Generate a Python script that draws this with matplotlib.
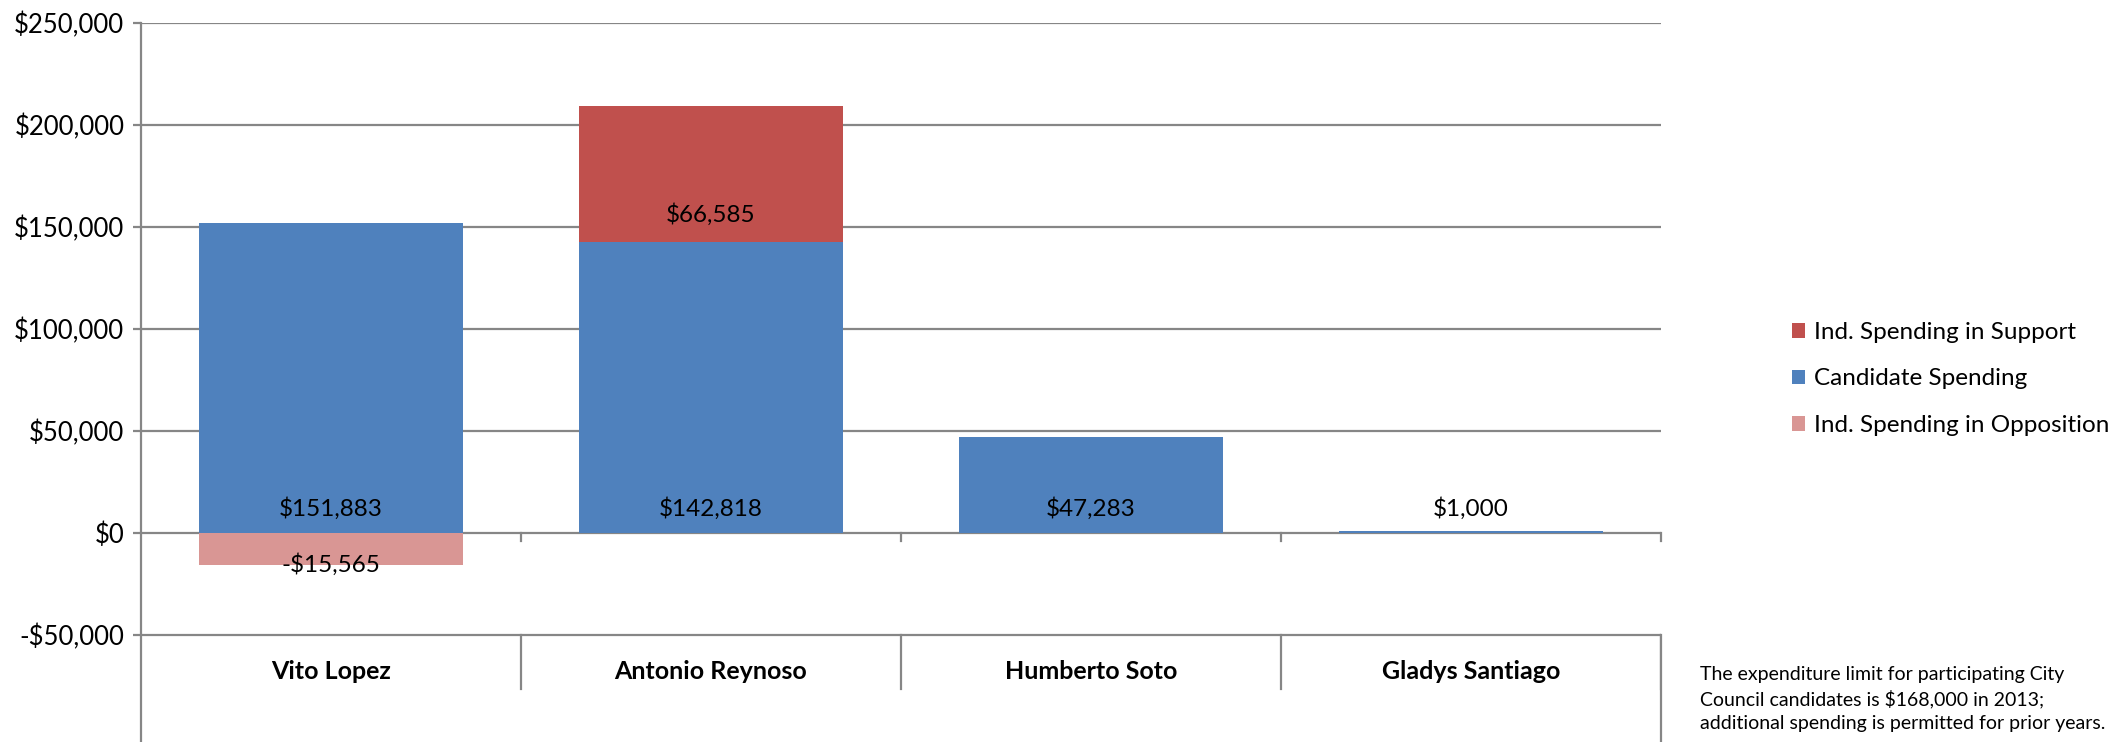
import numpy as np
import matplotlib
matplotlib.use('Agg')
from matplotlib import pyplot as plt
from matplotlib.ticker import FuncFormatter

# data
candidates = ['Vito Lopez', 'Antonio Reynoso', 'Humberto Soto', 'Gladys Santiago']
candidate_spending = [151883, 142818, 47283, 1000]
support_spending = [0, 66585, 0, 0]
opposition_spending = [-15565, 0, 0, 0]
yticks = [-50000, 0, 50000, 100000, 150000, 200000, 250000]

plt.rcParams['font.family'] = ['Lato', 'DejaVu Sans']

c_blue = '#4F81BD'
c_red = '#C0504D'
c_pink = '#D99694'
c_grid = '#868686'

fig = plt.figure(figsize=(21.27, 7.42), dpi=100)
ax = fig.add_axes([141 / 2127, 0, (1661 - 141) / 2127, 1 - 23 / 742])
ax.set_xlim(-0.5, 3.5)
ax.set_ylim(-102450, 250000)

x = np.arange(len(candidates))
w = 0.695

# grid lines
for t in yticks:
    ax.axhline(t, color=c_grid, lw=1.6, zorder=1)

ax.bar(x, candidate_spending, w, color=c_blue, zorder=2, label='Candidate Spending')
ax.bar(x, support_spending, w, bottom=candidate_spending, color=c_red, zorder=2,
       label='Ind. Spending in Support')
ax.bar(x, opposition_spending, w, color=c_pink, zorder=2, label='Ind. Spending in Opposition')

money = lambda v: ('-$' if v < 0 else '$') + format(abs(int(v)), ',')

# data labels (inside base)
for i in range(len(candidates)):
    ax.annotate(money(candidate_spending[i]), (x[i], 0), xytext=(0, 24),
                textcoords='offset pixels', ha='center', va='center', fontsize=17.5, zorder=3)
    if support_spending[i]:
        ax.annotate(money(support_spending[i]), (x[i], candidate_spending[i]), xytext=(0, 27),
                    textcoords='offset pixels', ha='center', va='center', fontsize=17.5, zorder=3)
    if opposition_spending[i]:
        ax.annotate(money(opposition_spending[i]), (x[i], 0), xytext=(0, -32),
                    textcoords='offset pixels', ha='center', va='center', fontsize=17.5, zorder=3)

# category axis: ticks at $0 and the label row below -50,000
for b in [0.5, 1.5, 2.5, 3.5]:
    ax.plot([b, b], [0, -4000], color=c_grid, lw=1.6, zorder=1, clip_on=False)
    ax.plot([b, b], [-50000, -76500], color=c_grid, lw=1.6, zorder=1)
ax.plot([3.5, 3.5], [-50000, -102450], color=c_grid, lw=1.6, clip_on=False)
for i, name in enumerate(candidates):
    ax.text(x[i], -68000, name, ha='center', va='center', fontsize=18, fontweight='bold')

ax.set_yticks(yticks)
ax.yaxis.set_major_formatter(FuncFormatter(lambda v, p: money(v)))
ax.tick_params(axis='y', length=6, width=1.6, color=c_grid, labelsize=18.5, pad=6)
ax.set_xticks([])
for s in ['top', 'right', 'bottom']:
    ax.spines[s].set_visible(False)
ax.spines['left'].set_color(c_grid)
ax.spines['left'].set_linewidth(1.6)

handles, labels = ax.get_legend_handles_labels()
order = [1, 0, 2]
fig.legend([handles[k] for k in order], [labels[k] for k in order],
           loc='center left', bbox_to_anchor=(1782 / 2127, 1 - 379 / 742),
           frameon=False, fontsize=17.5, handlelength=0.55, handleheight=0.55,
           handletextpad=0.35, labelspacing=1.05, borderaxespad=0)

fig.text(1700 / 2127, 1 - 666 / 742,
         'The expenditure limit for participating City\n'
         'Council candidates is $168,000 in 2013;\n'
         'additional spending is permitted for prior years.',
         ha='left', va='top', fontsize=14, linespacing=1.45)

fig.savefig('out.png', dpi=100)
